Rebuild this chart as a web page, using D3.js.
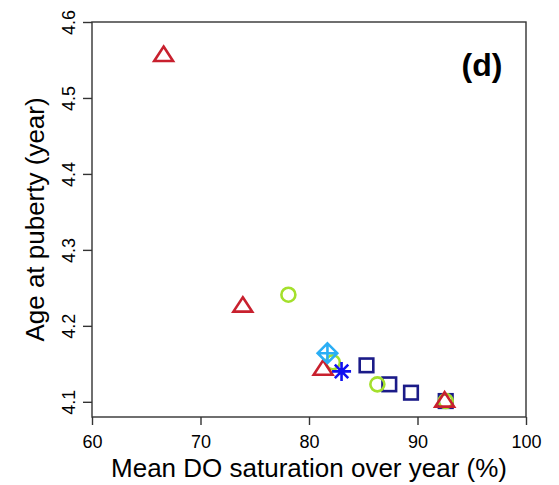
<!DOCTYPE html>
<html>
<head>
<meta charset="utf-8">
<script src="https://cdn.jsdelivr.net/npm/d3@7"></script>
<style>
  html, body { margin: 0; padding: 0; background: #fff; }
  svg text { font-family: "Liberation Sans", Arial, Helvetica, sans-serif; fill: #000; }
</style>
</head>
<body>
<svg id="chart" width="559" height="485"></svg>
<script>
// Mean dissolved-oxygen saturation (%) vs. age at puberty (years), by group
const triangleX = [66.6, 73.9, 81.3, 92.5];
const triangleY = [4.555, 4.225, 4.142, 4.100];

const circleX = [78.1, 82.2, 86.3, 92.6];
const circleY = [4.241, 4.152, 4.123, 4.101];

const squareX = [85.3, 87.4, 89.4, 92.6];
const squareY = [4.148, 4.123, 4.112, 4.101];

const diamondX = [81.7];
const diamondY = [4.164];

const starX = [83.0];
const starY = [4.140];

const xTicks = [60, 70, 80, 90, 100];
const yTicks = [4.1, 4.2, 4.3, 4.4, 4.5, 4.6];

const svg = d3.select("#chart");
const plotLeft = 92, plotRight = 526, plotTop = 22, plotBottom = 417;

const x = d3.scaleLinear().domain([60, 100]).range([plotLeft, plotRight]);
const y = d3.scaleLinear().domain([4.08, 4.6]).range([plotBottom, plotTop]);

const axisColor = "#333";
const tickFont = 18;

// plot frame
svg.append("rect")
  .attr("x", plotLeft).attr("y", plotTop)
  .attr("width", plotRight - plotLeft).attr("height", plotBottom - plotTop)
  .attr("fill", "none").attr("stroke", axisColor).attr("stroke-width", 1.4);

// x axis
const xAxis = svg.append("g")
  .attr("transform", `translate(0,${plotBottom})`)
  .call(d3.axisBottom(x).tickValues(xTicks).tickSize(8).tickPadding(10).tickFormat(d3.format("d")));
xAxis.select(".domain").remove();
xAxis.selectAll("line").attr("stroke", axisColor).attr("stroke-width", 1.4);
xAxis.selectAll("text").attr("font-size", tickFont).attr("fill", "#000")
  .attr("font-family", "Liberation Sans, Arial, sans-serif");

// y axis with labels running along the axis
const yAxis = svg.append("g")
  .attr("transform", `translate(${plotLeft},0)`)
  .call(d3.axisLeft(y).tickValues(yTicks).tickSize(9).tickFormat(d3.format(".1f")));
yAxis.select(".domain").remove();
yAxis.selectAll("line").attr("stroke", axisColor).attr("stroke-width", 1.4);
yAxis.selectAll("text")
  .attr("font-size", tickFont).attr("fill", "#000")
  .attr("font-family", "Liberation Sans, Arial, sans-serif")
  .attr("x", null).attr("dy", null)
  .attr("text-anchor", "middle")
  .attr("transform", "translate(-17,0) rotate(-90)");

// axis titles
svg.append("text")
  .attr("x", (plotLeft + plotRight) / 2).attr("y", 477)
  .attr("text-anchor", "middle").attr("font-size", 26)
  .text("Mean DO saturation over year (%)");

svg.append("text")
  .attr("transform", `translate(44,${(plotTop + plotBottom) / 2}) rotate(-90)`)
  .attr("text-anchor", "middle").attr("font-size", 26)
  .text("Age at puberty (year)");

// panel tag
svg.append("text")
  .attr("x", 482).attr("y", 76)
  .attr("text-anchor", "middle").attr("font-size", 32).attr("font-weight", "bold")
  .text("(d)");

const sw = 2.6;
const zip = (xs, ys) => xs.map((v, i) => ({ x: v, y: ys[i] }));

// squares
svg.append("g").selectAll("rect")
  .data(zip(squareX, squareY)).join("rect")
  .attr("x", d => x(d.x) - 6.8).attr("y", d => y(d.y) - 6.8)
  .attr("width", 13.6).attr("height", 13.6)
  .attr("fill", "none").attr("stroke", "#1b1b88").attr("stroke-width", sw);

// circles
svg.append("g").selectAll("circle")
  .data(zip(circleX, circleY)).join("circle")
  .attr("cx", d => x(d.x)).attr("cy", d => y(d.y)).attr("r", 7)
  .attr("fill", "none").attr("stroke", "#a4e02c").attr("stroke-width", sw);

// triangles (point at centroid)
const triW = 9.4, triUp = 9.6, triDown = 4.8;
svg.append("g").selectAll("path")
  .data(zip(triangleX, triangleY)).join("path")
  .attr("d", d => {
    const cx = x(d.x), cy = y(d.y);
    return `M${cx},${cy - triUp}L${cx + triW},${cy + triDown}L${cx - triW},${cy + triDown}Z`;
  })
  .attr("fill", "none").attr("stroke", "#c8202e").attr("stroke-width", sw)
  .attr("stroke-linejoin", "miter");

// diamond with plus
svg.append("g").selectAll("path")
  .data(zip(diamondX, diamondY)).join("path")
  .attr("d", d => {
    const cx = x(d.x), cy = y(d.y), r = 9.8;
    return `M${cx},${cy - r}L${cx + r},${cy}L${cx},${cy + r}L${cx - r},${cy}Z` +
      `M${cx - r},${cy}L${cx + r},${cy}M${cx},${cy - r}L${cx},${cy + r}`;
  })
  .attr("fill", "none").attr("stroke", "#2aaef5").attr("stroke-width", sw);

// asterisk
svg.append("g").selectAll("path")
  .data(zip(starX, starY)).join("path")
  .attr("d", d => {
    const cx = x(d.x), cy = y(d.y), r = 9.5, q = r * Math.SQRT1_2;
    return `M${cx - r},${cy}L${cx + r},${cy}M${cx},${cy - r}L${cx},${cy + r}` +
      `M${cx - q},${cy - q}L${cx + q},${cy + q}M${cx - q},${cy + q}L${cx + q},${cy - q}`;
  })
  .attr("fill", "none").attr("stroke", "#1010f0").attr("stroke-width", sw);
</script>
</body>
</html>
